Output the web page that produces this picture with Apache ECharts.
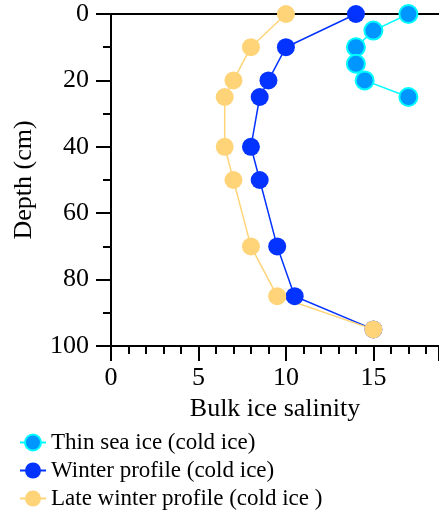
<!DOCTYPE html>
<html><head><meta charset="utf-8">
<script src="https://cdn.jsdelivr.net/npm/echarts@6/dist/echarts.min.js"></script>
<style>html,body{margin:0;padding:0;background:#fff}#c{width:439px;height:516px}</style>
</head><body><div id="c"></div>
<script>
const seriesNames = ['Thin sea ice (cold ice)', 'Winter profile (cold ice)', 'Late winter profile (cold ice )'];
const thinSalinity = [17, 15, 14, 14, 14.5, 17];
const thinDepth = [0, 5, 10, 15, 20, 25];
const winterSalinity = [14, 10, 9, 8.5, 8, 8.5, 9.5, 10.5, 15];
const winterDepth = [0, 10, 20, 25, 40, 50, 70, 85, 95];
const lateSalinity = [10, 8, 7, 6.5, 6.5, 7, 8, 9.5, 15];
const lateDepth = [0, 10, 20, 25, 40, 50, 70, 85, 95];
const xTicks = [0, 5, 10, 15];
const yTicks = [0, 20, 40, 60, 80, 100];

const pair = (xs, ys) => xs.map((x, i) => [x, ys[i]]);
const FONT = 'Liberation Serif';
const chart = echarts.init(document.getElementById('c'), null, {renderer: 'canvas'});
const axisLineStyle = {color: '#000', width: 2};
chart.setOption({
  animation: false,
  textStyle: {fontFamily: FONT, color: '#000'},
  grid: {left: 111, right: 0, top: 14, bottom: 170},
  legend: {
    orient: 'vertical', left: 14, top: 426, height: 90, itemWidth: 26, itemHeight: 20, itemGap: 5,
    textStyle: {fontFamily: FONT, fontSize: 23, color: '#000'},
    data: seriesNames
  },
  xAxis: [{
    type: 'value', min: 0, max: 18.75, interval: 5, position: 'bottom',
    name: 'Bulk ice salinity', nameLocation: 'middle', nameGap: 50,
    nameTextStyle: {fontFamily: FONT, fontSize: 26, color: '#000'},
    axisLine: {show: true, onZero: false, lineStyle: axisLineStyle},
    axisTick: {show: true, inside: false, length: 15, lineStyle: axisLineStyle},
    minorTick: {show: true, splitNumber: 5, length: 8, lineStyle: axisLineStyle},
    axisLabel: {fontFamily: FONT, fontSize: 26, color: '#000', margin: 19, showMaxLabel: false,
      formatter: v => xTicks.includes(v) ? String(v) : ''},
    splitLine: {show: false}
  }, {
    type: 'value', min: 0, max: 18.75, position: 'top',
    axisLine: {show: true, onZero: false, lineStyle: axisLineStyle},
    axisTick: {show: false}, axisLabel: {show: false}, splitLine: {show: false}
  }],
  yAxis: {
    type: 'value', min: 0, max: 100, interval: 20, inverse: true,
    name: 'Depth (cm)', nameLocation: 'middle', nameGap: 74, nameRotate: 90,
    nameTextStyle: {fontFamily: FONT, fontSize: 26, color: '#000'},
    axisLine: {show: true, onZero: false, lineStyle: axisLineStyle},
    axisTick: {show: true, inside: false, length: 15, lineStyle: axisLineStyle},
    minorTick: {show: true, splitNumber: 2, length: 8, lineStyle: axisLineStyle},
    axisLabel: {fontFamily: FONT, fontSize: 26, color: '#000', margin: 22,
      formatter: v => yTicks.includes(v) ? String(v) : ''},
    splitLine: {show: false}
  },
  series: [{
    name: seriesNames[0], type: 'line', data: pair(thinSalinity, thinDepth),
    symbol: 'circle', symbolSize: 18,
    lineStyle: {color: '#00FDFF', width: 1.5},
    itemStyle: {color: '#0096FF', borderColor: '#00FDFF', borderWidth: 2}
  }, {
    name: seriesNames[1], type: 'line', data: pair(winterSalinity, winterDepth),
    symbol: 'circle', symbolSize: 18,
    lineStyle: {color: '#0433FF', width: 1.5},
    itemStyle: {color: '#0433FF'}
  }, {
    name: seriesNames[2], type: 'line', data: pair(lateSalinity, lateDepth),
    symbol: 'circle', symbolSize: 18,
    lineStyle: {color: '#FFD479', width: 1.5},
    itemStyle: {color: '#FFD479'}
  }]
});
</script></body></html>
